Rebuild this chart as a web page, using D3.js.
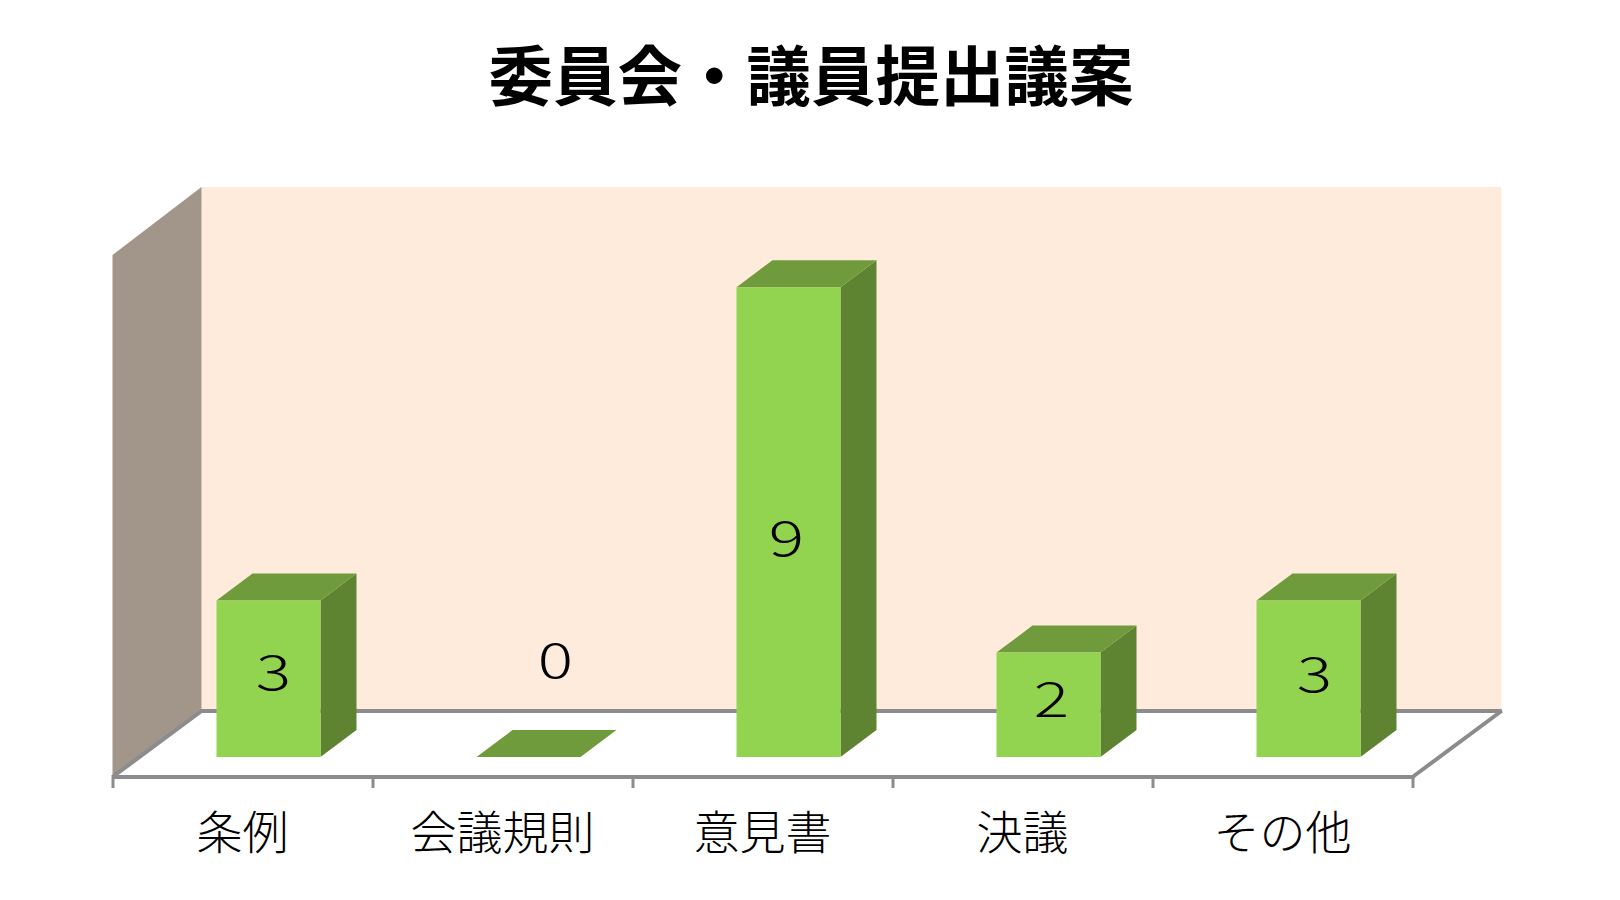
<!DOCTYPE html>
<html>
<head>
<meta charset="utf-8">
<script src="https://cdn.jsdelivr.net/npm/d3@7"></script>
<style>
  html, body { margin: 0; padding: 0; background: #fff; }
  text { font-family: "Noto Sans CJK JP", sans-serif; fill: #000; }
</style>
</head>
<body>
<script>
var title = "委員会・議員提出議案";
var categories = ["条例", "会議規則", "意見書", "決議", "その他"];
var values = [3, 0, 9, 2, 3];

var width = 1620, height = 900;

// front edge of the floor, and how far the 3D box recedes
var margin = {left: 112.5, right: 207.5, top: 235, bottom: 123};
var wallDepth = {x: 89, y: 66};
var barDepth = {x: 36, y: 27};
var wallTop = 187;

var svg = d3.select("body").append("svg")
  .attr("width", width)
  .attr("height", height)
  .style("display", "block");

var x = d3.scaleBand().domain(categories).range([margin.left, width - margin.right]);
var tickScale = d3.scaleLinear().domain([0, categories.length]).range(x.range());
var floorY = height - margin.bottom;
var y = d3.scaleLinear().domain([0, 10]).range([floorY - 20, margin.top]);

var polygon = function(points) { return "M" + points.join("L") + "Z"; };
var x0 = x.range()[0], x1 = x.range()[1];

// back wall, side wall and floor
svg.append("path")
  .attr("d", polygon([[x0 + wallDepth.x, wallTop], [x1 + wallDepth.x, wallTop],
    [x1 + wallDepth.x, floorY - wallDepth.y], [x0 + wallDepth.x, floorY - wallDepth.y]]))
  .attr("fill", "#feebdc");
svg.append("path")
  .attr("d", polygon([[x0, wallTop + 68], [x0 + wallDepth.x, wallTop],
    [x0 + wallDepth.x, floorY - wallDepth.y], [x0, floorY]]))
  .attr("fill", "#a29589");
svg.append("path")
  .attr("d", polygon([[x0, floorY], [x0 + wallDepth.x, floorY - wallDepth.y],
    [x1 + wallDepth.x, floorY - wallDepth.y], [x1, floorY]]))
  .attr("fill", "#fff")
  .attr("stroke", "#8c8c8c")
  .attr("stroke-width", 4)
  .attr("stroke-linejoin", "bevel");

// Bars
var barW = x.bandwidth() * 0.4;
var bars = svg.selectAll(".bar")
  .data(categories)
  .enter().append("g")
    .attr("class", "bar")
    .attr("transform", function(d) { return "translate(" + (x(d) + x.bandwidth() * 0.4) + ",0)"; });

bars.append("path")
  .attr("fill", "#5e8431")
  .attr("d", function(d, i) {
    var top = y(values[i]), base = y(0);
    return polygon([[barW, top], [barW + barDepth.x, top - barDepth.y],
      [barW + barDepth.x, base - barDepth.y], [barW, base]]);
  });
bars.append("path")
  .attr("fill", "#709b3c")
  .attr("d", function(d, i) {
    var top = y(values[i]);
    return polygon([[0, top], [barDepth.x, top - barDepth.y],
      [barW + barDepth.x, top - barDepth.y], [barW, top]]);
  });
bars.append("rect")
  .attr("fill", "#92d350")
  .attr("width", barW)
  .attr("y", function(d, i) { return y(values[i]); })
  .attr("height", function(d, i) { return y(0) - y(values[i]); });

// data labels were hand placed in the original, so each has its own nudge
var nudgeX = [5, 27, -2, 3, 6];
var nudgeY = [-9, -100, 13, -8, -7];
svg.selectAll(".value")
  .data(values)
  .enter().append("text")
    .attr("class", "value")
    .attr("transform", function(d, i) {
      var lx = x(categories[i]) + x.bandwidth() * 0.6 + nudgeX[i];
      var ly = (y(d) + y(0)) / 2 + nudgeY[i];
      // the original digits are much wider than Noto's
      return "translate(" + lx + "," + ly + ") scale(1.32,0.95)";
    })
    .attr("text-anchor", "middle")
    .attr("dominant-baseline", "central")
    .attr("font-size", 50)
    .attr("font-weight", 300)
    .text(function(d) { return d; });

// Axis ticks sit on the band edges, the labels in the band centres
var tickAxis = d3.axisBottom(tickScale)
  .ticks(categories.length)
  .tickSize(11)
  .tickFormat("");
var ticks = svg.append("g")
  .attr("transform", "translate(0," + floorY + ")")
  .call(tickAxis);
ticks.select(".domain").remove();
ticks.selectAll("line").attr("stroke", "#8c8c8c").attr("stroke-width", 3);

var labelAxis = d3.axisBottom(x).tickSize(0).tickPadding(0);
var labels = svg.append("g")
  .attr("transform", "translate(0," + (floorY + 52) + ")")
  .call(labelAxis);
labels.select(".domain").remove();
labels.selectAll("text")
  .attr("font-family", null)
  .attr("dy", null)
  .attr("y", 0)
  .attr("dominant-baseline", "central")
  .style("font-size", "46px")
  .style("font-weight", 300);

svg.append("text")
  .attr("x", 811)
  .attr("y", 72)
  .attr("text-anchor", "middle")
  .attr("dominant-baseline", "central")
  .attr("font-size", 64.5)
  .attr("font-weight", 700)
  .text(title);
</script>
</body>
</html>
